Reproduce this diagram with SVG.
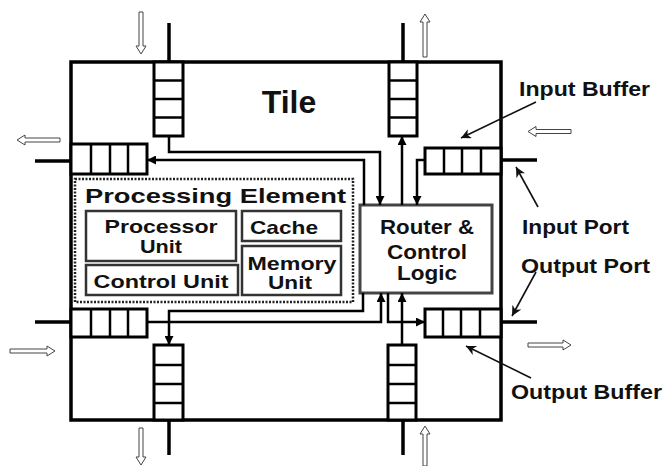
<svg xmlns="http://www.w3.org/2000/svg" width="668" height="466" viewBox="0 0 668 466">
<style>
text{font-family:"Liberation Sans",Arial,sans-serif;font-weight:bold;fill:#111}
.tile{fill:#fff;stroke:#000;stroke-width:3.5}
.buf{fill:#fff;stroke:#000;stroke-width:3}
.div{stroke:#000;stroke-width:2.5}
.port{stroke:#000;stroke-width:3.5}
.pe{fill:none;stroke:#222;stroke-width:2.5;stroke-dasharray:2 1.5}
.box{fill:#fff;stroke:#333;stroke-width:2.5}
.router{fill:#fff;stroke:#444;stroke-width:3}
.conn{fill:none;stroke:#000;stroke-width:2.5;marker-end:url(#ah)}
.ann{fill:none;stroke:#111;stroke-width:1.6;marker-end:url(#ah2)}
.flow{fill:#fff;stroke:#444;stroke-width:1}
</style>
<defs>
<marker id="ah" viewBox="0 0 10 10" markerWidth="9" markerHeight="9" refX="10" refY="5" orient="auto" markerUnits="userSpaceOnUse"><path d="M0,0 L10,5 L0,10 z" fill="#000"/></marker>
<marker id="ah2" viewBox="0 0 10 10" markerWidth="12" markerHeight="10" refX="10" refY="5" orient="auto" markerUnits="userSpaceOnUse"><path d="M0,0 L10,5 L0,10 L3,5 z" fill="#111"/></marker>
</defs>
<rect width="668" height="466" fill="#fff"/>

<g id="tile">
<rect class="tile" x="71" y="62" width="430" height="358"/>
<text x="289" y="113" font-size="32" text-anchor="middle">Tile</text>
</g>

<g id="ports">
<line class="port" x1="169" y1="23" x2="169" y2="62"/>
<line class="port" x1="403" y1="23" x2="403" y2="62"/>
<line class="port" x1="35" y1="161" x2="71" y2="161"/>
<line class="port" x1="35" y1="322" x2="71" y2="322"/>
<line class="port" x1="501" y1="160" x2="537" y2="160"/>
<line class="port" x1="501" y1="322" x2="537" y2="322"/>
<line class="port" x1="169" y1="420" x2="169" y2="455"/>
<line class="port" x1="403" y1="420" x2="403" y2="455"/>
</g>

<g id="buf-north-in">
<rect class="buf" x="154" y="62" width="29" height="74"/>
<line class="div" x1="154" y1="80.5" x2="183" y2="80.5"/>
<line class="div" x1="154" y1="99" x2="183" y2="99"/>
<line class="div" x1="154" y1="117.5" x2="183" y2="117.5"/>
</g>
<g id="buf-north-out">
<rect class="buf" x="389" y="62" width="28" height="74"/>
<line class="div" x1="389" y1="80.5" x2="417" y2="80.5"/>
<line class="div" x1="389" y1="99" x2="417" y2="99"/>
<line class="div" x1="389" y1="117.5" x2="417" y2="117.5"/>
</g>
<g id="buf-west-out">
<rect class="buf" x="71" y="144" width="76" height="30"/>
<line class="div" x1="91" y1="144" x2="91" y2="174"/>
<line class="div" x1="110" y1="144" x2="110" y2="174"/>
<line class="div" x1="128" y1="144" x2="128" y2="174"/>
</g>
<g id="buf-east-in">
<rect class="buf" x="425" y="148" width="76" height="26"/>
<line class="div" x1="444" y1="148" x2="444" y2="174"/>
<line class="div" x1="462" y1="148" x2="462" y2="174"/>
<line class="div" x1="481" y1="148" x2="481" y2="174"/>
</g>
<g id="buf-west-in">
<rect class="buf" x="71" y="309" width="76" height="28"/>
<line class="div" x1="91" y1="309" x2="91" y2="337"/>
<line class="div" x1="110" y1="309" x2="110" y2="337"/>
<line class="div" x1="128" y1="309" x2="128" y2="337"/>
</g>
<g id="buf-east-out">
<rect class="buf" x="425" y="309" width="76" height="28"/>
<line class="div" x1="443" y1="309" x2="443" y2="337"/>
<line class="div" x1="461" y1="309" x2="461" y2="337"/>
<line class="div" x1="480" y1="309" x2="480" y2="337"/>
</g>
<g id="buf-south-out">
<rect class="buf" x="154" y="345" width="29" height="75"/>
<line class="div" x1="154" y1="365" x2="183" y2="365"/>
<line class="div" x1="154" y1="384" x2="183" y2="384"/>
<line class="div" x1="154" y1="403" x2="183" y2="403"/>
</g>
<g id="buf-south-in">
<rect class="buf" x="388" y="345" width="28" height="75"/>
<line class="div" x1="388" y1="365" x2="416" y2="365"/>
<line class="div" x1="388" y1="384" x2="416" y2="384"/>
<line class="div" x1="388" y1="403" x2="416" y2="403"/>
</g>

<g id="processing-element">
<rect class="pe" x="75" y="179" width="278" height="123"/>
<text x="85" y="203" font-size="21" textLength="261" lengthAdjust="spacingAndGlyphs">Processing Element</text>
</g>
<g id="processor-unit">
<rect class="box" x="86" y="211" width="150" height="50"/>
<text x="161" y="233" font-size="19" text-anchor="middle" textLength="113" lengthAdjust="spacingAndGlyphs">Processor</text>
<text x="161" y="253" font-size="19" text-anchor="middle" textLength="42" lengthAdjust="spacingAndGlyphs">Unit</text>
</g>
<g id="cache">
<rect class="box" x="242" y="211" width="99" height="30"/>
<text x="284" y="234" font-size="19" text-anchor="middle" textLength="68" lengthAdjust="spacingAndGlyphs">Cache</text>
</g>
<g id="memory-unit">
<rect class="box" x="242" y="246" width="99" height="49"/>
<text x="292" y="270" font-size="19" text-anchor="middle" textLength="89" lengthAdjust="spacingAndGlyphs">Memory</text>
<text x="290" y="289" font-size="19" text-anchor="middle" textLength="44" lengthAdjust="spacingAndGlyphs">Unit</text>
</g>
<g id="control-unit">
<rect class="box" x="86" y="265" width="152" height="30"/>
<text x="161" y="288" font-size="19" text-anchor="middle" textLength="135" lengthAdjust="spacingAndGlyphs">Control Unit</text>
</g>

<g id="router">
<rect class="router" x="360" y="205" width="132" height="88"/>
<text x="427" y="234" font-size="20" text-anchor="middle" textLength="94" lengthAdjust="spacingAndGlyphs">Router &amp;</text>
<text x="427" y="259" font-size="20" text-anchor="middle" textLength="80" lengthAdjust="spacingAndGlyphs">Control</text>
<text x="427" y="280" font-size="20" text-anchor="middle" textLength="60" lengthAdjust="spacingAndGlyphs">Logic</text>
</g>

<g id="connectors">
<path class="conn" d="M169,136 V152 H380 V205"/>
<path class="conn" d="M364,205 V160 H147"/>
<path class="conn" d="M402,205 V136"/>
<path class="conn" d="M425,160 H417 V205"/>
<path class="conn" d="M147,322 H381 V293"/>
<path class="conn" d="M388,293 V322 H425"/>
<path class="conn" d="M402,345 V293"/>
<path class="conn" d="M363,293 V311 H169 V345"/>
</g>

<g id="labels">
<text x="519" y="96" font-size="21" textLength="131" lengthAdjust="spacingAndGlyphs">Input Buffer</text>
<text x="522" y="234" font-size="21" textLength="107" lengthAdjust="spacingAndGlyphs">Input Port</text>
<text x="521" y="273" font-size="21" textLength="129" lengthAdjust="spacingAndGlyphs">Output Port</text>
<text x="511" y="399" font-size="21" textLength="151" lengthAdjust="spacingAndGlyphs">Output Buffer</text>
</g>
<g id="annotations">
<path class="ann" d="M536,102 L461,138"/>
<path class="ann" d="M538,207 L516,167"/>
<path class="ann" d="M536,272 L512,316"/>
<path class="ann" d="M531,378 L466,346"/>
</g>

<g id="flow-arrows">
<polygon class="flow" points="141,54 136,46 139,46 139,12 143,12 143,46 146,46"/>
<polygon class="flow" points="425,14 420,22 423,22 423,57 427,57 427,22 430,22"/>
<polygon class="flow" points="17,140 25,135 25,138 60,138 60,142 25,142 25,145"/>
<polygon class="flow" points="528,131.5 536,126.5 536,129.5 571,129.5 571,133.5 536,133.5 536,136.5"/>
<polygon class="flow" points="55,351 47,346 47,349 10,349 10,353 47,353 47,356"/>
<polygon class="flow" points="571,345 563,340 563,343 528,343 528,347 563,347 563,350"/>
<polygon class="flow" points="141,465 136,457 139,457 139,428 143,428 143,457 146,457"/>
<polygon class="flow" points="425,426 420,434 423,434 423,466 427,466 427,434 430,434"/>
</g>
</svg>
